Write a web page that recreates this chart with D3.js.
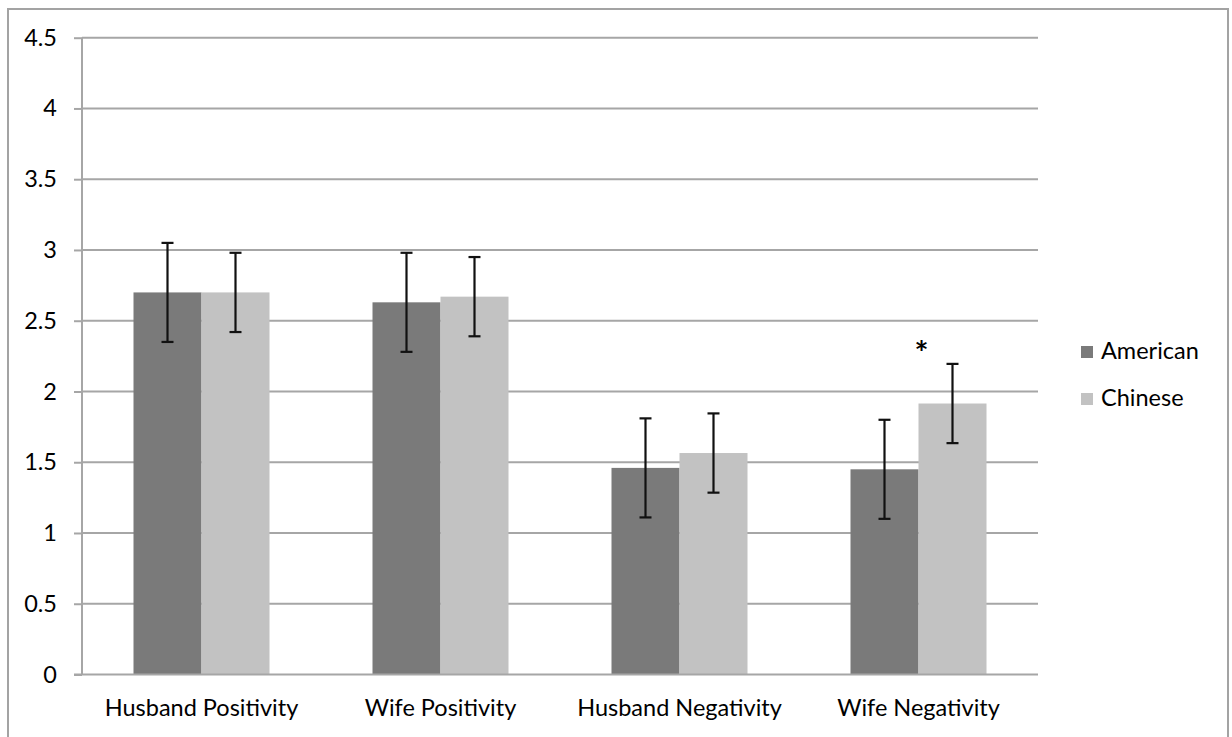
<!DOCTYPE html>
<html>
<head>
<meta charset="utf-8">
<script src="https://cdn.jsdelivr.net/npm/d3@7"></script>
<style>
  html, body { margin: 0; padding: 0; background: #fff; }
  svg { display: block; }
  text { font-family: Lato, "Open Sans", sans-serif; fill: #000; }
</style>
</head>
<body>
<svg id="chart" width="1232" height="737"></svg>
<script>
const categories = ["Husband Positivity", "Wife Positivity", "Husband Negativity", "Wife Negativity"];
const seriesNames = ["American", "Chinese"];
const americanValues = [2.70, 2.63, 1.46, 1.45];
const chineseValues  = [2.70, 2.67, 1.565, 1.915];
const americanErrors = [0.35, 0.35, 0.35, 0.35];
const chineseErrors  = [0.28, 0.28, 0.28, 0.28];
const yTicks = [0, 0.5, 1, 1.5, 2, 2.5, 3, 3.5, 4, 4.5];
const yTickLabels = ["0", "0.5", "1", "1.5", "2", "2.5", "3", "3.5", "4", "4.5"];
const significance = ["", "", "", "*"];

const colors = { American: "#7a7a7a", Chinese: "#c2c2c2" };
const FS = 23.5;

const svg = d3.select("#chart");
const margin = { left: 82, right: 1038, top: 37.7, bottom: 674.5 };

// outer frame
svg.append("rect")
  .attr("x", 8).attr("y", 9)
  .attr("width", 1220).attr("height", 740)
  .attr("fill", "none").attr("stroke", "#a3a3a3").attr("stroke-width", 2);

const x0 = d3.scaleBand().domain(categories).range([margin.left, margin.right]).paddingInner(0).paddingOuter(0);
const groupPad = (x0.bandwidth() - 136) / 2;
const x1 = d3.scaleBand().domain(seriesNames).range([groupPad, x0.bandwidth() - groupPad]).padding(0);
const y = d3.scaleLinear().domain([0, 4.5]).range([margin.bottom, margin.top]);

// gridlines
svg.append("g").selectAll("line").data(yTicks.filter(t => t > 0)).join("line")
  .attr("x1", margin.left).attr("x2", margin.right)
  .attr("y1", d => y(d)).attr("y2", d => y(d))
  .attr("stroke", "#a6a6a6").attr("stroke-width", 2);

// y axis
const yAxis = d3.axisLeft(y).tickValues(yTicks).tickFormat((d, i) => yTickLabels[i]).tickSize(8).tickPadding(17);
const gy = svg.append("g").attr("transform", `translate(${margin.left},0)`).call(yAxis);
gy.attr("font-size", FS).attr("font-family", "Lato, sans-serif");
gy.select(".domain").attr("stroke", "#a6a6a6").attr("stroke-width", 2).attr("d", `M0,${margin.bottom}V${margin.top}`);
gy.selectAll(".tick line").attr("stroke", "#a6a6a6").attr("stroke-width", 2);
gy.selectAll(".tick text").attr("font-size", FS).attr("fill", "#000");

// data rows
const rows = categories.map((c, i) => ({
  category: c,
  values: [
    { series: "American", value: americanValues[i], err: americanErrors[i] },
    { series: "Chinese", value: chineseValues[i], err: chineseErrors[i] }
  ],
  sig: significance[i]
}));

const groups = svg.append("g").selectAll("g").data(rows).join("g")
  .attr("transform", d => `translate(${x0(d.category)},0)`);

groups.selectAll("rect").data(d => d.values).join("rect")
  .attr("x", d => x1(d.series))
  .attr("width", x1.bandwidth())
  .attr("y", d => y(d.value))
  .attr("height", d => y(0) - y(d.value))
  .attr("fill", d => colors[d.series]);

// x axis line
svg.append("line")
  .attr("x1", margin.left - 8).attr("x2", margin.right)
  .attr("y1", y(0)).attr("y2", y(0))
  .attr("stroke", "#a6a6a6").attr("stroke-width", 2);

// error bars
const eb = groups.selectAll("g.err").data(d => d.values).join("g").attr("class", "err");
const cx = d => x1(d.series) + x1.bandwidth() / 2;
eb.append("line")
  .attr("x1", cx).attr("x2", cx)
  .attr("y1", d => y(d.value + d.err)).attr("y2", d => y(d.value - d.err))
  .attr("stroke", "#111").attr("stroke-width", 2.2);
eb.append("line")
  .attr("x1", d => cx(d) - 6).attr("x2", d => cx(d) + 6)
  .attr("y1", d => y(d.value + d.err)).attr("y2", d => y(d.value + d.err))
  .attr("stroke", "#111").attr("stroke-width", 2.2);
eb.append("line")
  .attr("x1", d => cx(d) - 6).attr("x2", d => cx(d) + 6)
  .attr("y1", d => y(d.value - d.err)).attr("y2", d => y(d.value - d.err))
  .attr("stroke", "#111").attr("stroke-width", 2.2);

// significance marker
groups.append("text")
  .attr("x", x0.bandwidth() / 2 + 3)
  .attr("y", d => y(d3.max(d.values, v => v.value + v.err)) + 1.5)
  .attr("text-anchor", "middle")
  .attr("font-size", 33)
  .attr("font-weight", "bold")
  .text(d => d.sig);

// x labels
svg.append("g").selectAll("text").data(categories).join("text")
  .attr("x", d => x0(d) + x0.bandwidth() / 2)
  .attr("y", 716)
  .attr("text-anchor", "middle")
  .attr("font-size", FS)
  .text(d => d);

// legend
const legend = svg.append("g").selectAll("g").data(seriesNames).join("g")
  .attr("transform", (d, i) => `translate(1081,${346 + i * 47})`);
legend.append("rect").attr("width", 12).attr("height", 12).attr("fill", d => colors[d]);
legend.append("text").attr("x", 20).attr("y", 12.5).attr("font-size", FS).text(d => d);
</script>
</body>
</html>
